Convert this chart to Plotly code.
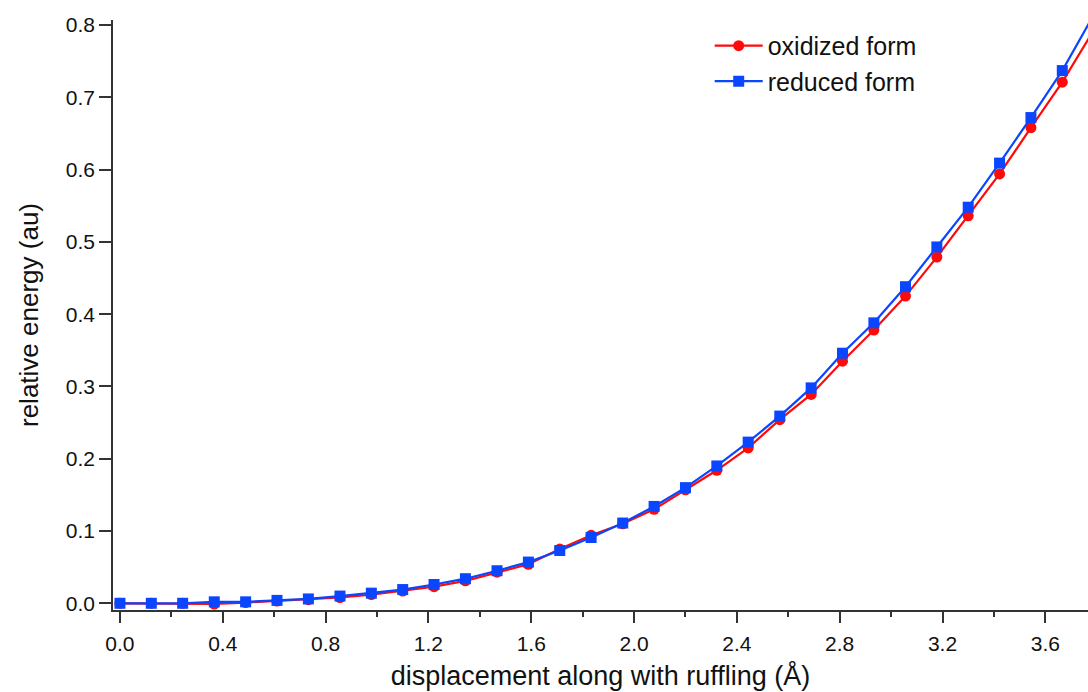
import plotly.graph_objects as go

# displacement along ruffling coordinate (Å)
displacement = [0.0, 0.122, 0.244, 0.367, 0.489, 0.611, 0.733, 0.856, 0.978, 1.100,
                1.222, 1.344, 1.467, 1.589, 1.711, 1.833, 1.956, 2.078, 2.200, 2.322,
                2.444, 2.567, 2.689, 2.811, 2.933, 3.056, 3.178, 3.300, 3.422, 3.544,
                3.666, 3.788]

oxidized = [0.000, 0.000, 0.000, -0.001, 0.001, 0.003, 0.005, 0.008, 0.012, 0.017,
            0.023, 0.031, 0.043, 0.054, 0.075, 0.094, 0.110, 0.130, 0.157, 0.184,
            0.215, 0.254, 0.289, 0.335, 0.378, 0.425, 0.479, 0.536, 0.594, 0.658,
            0.721, 0.793]

reduced = [0.000, 0.000, 0.000, 0.002, 0.002, 0.004, 0.006, 0.010, 0.014, 0.019,
           0.026, 0.034, 0.045, 0.057, 0.073, 0.091, 0.111, 0.134, 0.160, 0.190,
           0.223, 0.259, 0.298, 0.346, 0.388, 0.438, 0.493, 0.548, 0.609, 0.672,
           0.737, 0.814]

x_ticks = [0.0, 0.4, 0.8, 1.2, 1.6, 2.0, 2.4, 2.8, 3.2, 3.6]
y_ticks = [0.0, 0.1, 0.2, 0.3, 0.4, 0.5, 0.6, 0.7, 0.8]

RED = "#ff0a0a"
BLUE = "#0a46ff"
FONT = "Liberation Sans, Arial, sans-serif"

fig = go.Figure()
fig.add_trace(go.Scatter(
    x=displacement, y=oxidized, mode="lines+markers", name="oxidized form",
    line=dict(color=RED, width=2.2),
    marker=dict(symbol="circle", size=11, color=RED),
))
fig.add_trace(go.Scatter(
    x=displacement, y=reduced, mode="lines+markers", name="reduced form",
    line=dict(color=BLUE, width=2.2),
    marker=dict(symbol="square", size=11, color=BLUE),
))

fig.update_layout(
    width=1088, height=692,
    margin=dict(l=113, r=0, t=20, b=82),
    paper_bgcolor="white", plot_bgcolor="white",
    font=dict(family=FONT, size=21, color="#111"),
    showlegend=True,
    legend=dict(
        x=0.612, y=0.995, xanchor="left", yanchor="top",
        font=dict(size=25, color="#111"),
        bgcolor="rgba(0,0,0,0)", tracegroupgap=0, itemwidth=48,
    ),
    xaxis=dict(
        range=[-0.027, 3.766], tickvals=x_ticks,
        ticktext=[f"{v:.1f}" for v in x_ticks],
        showgrid=False, zeroline=False,
        showline=True, linecolor="#333", linewidth=1.5,
        ticks="outside", ticklen=11, tickwidth=1.5, tickcolor="#333",
        minor=dict(dtick=0.2, tick0=0.0, ticks="outside", ticklen=5,
                   tickwidth=1.5, tickcolor="#333", showgrid=False),
        tickfont=dict(size=21), ticklabelstandoff=3,
        title=dict(text="displacement along with ruffling (Å)",
                   font=dict(size=27), standoff=12),
    ),
    yaxis=dict(
        range=[-0.0093, 0.807], tickvals=y_ticks,
        ticktext=[f"{v:.1f}" for v in y_ticks],
        showgrid=False, zeroline=False,
        showline=True, linecolor="#333", linewidth=1.5,
        ticks="outside", ticklen=12, tickwidth=1.5, tickcolor="#333",
        tickfont=dict(size=21),
        title=dict(text="relative energy (au)", font=dict(size=26), standoff=20),
    ),
)

fig.write_html(
    "out.html",
    config={"displayModeBar": False},
    post_script="document.body.style.margin='0';document.body.style.overflow='hidden';",
)
